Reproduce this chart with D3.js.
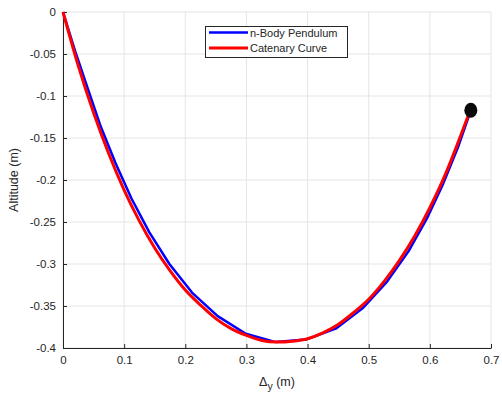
<html>
<head>
<meta charset="utf-8">
<script src="https://d3js.org/d3.v7.min.js"></script>
<style>
  body { margin: 0; background: #fff; }
  svg text { font-family: 'Liberation Sans', Arial, Helvetica, sans-serif; fill: #262626; }
  .grid line { stroke: #e5e5e5; stroke-width: 1; }
  .axis path, .axis line { stroke: #262626; }
</style>
</head>
<body>
<div id="chart"></div>
<script>
// x ticks and y ticks
var X_TICKS = [0, 0.1, 0.2, 0.3, 0.4, 0.5, 0.6, 0.7];
var Y_TICKS = [0, -0.05, -0.1, -0.15, -0.2, -0.25, -0.3, -0.35, -0.4];

// n-body pendulum nodes
var bodyX = [0, 0.020, 0.041, 0.062, 0.086, 0.112, 0.141, 0.174, 0.211, 0.253, 0.299,
             0.348, 0.397, 0.446, 0.491, 0.530, 0.565, 0.595, 0.622, 0.646, 0.667];
var bodyY = [0, -0.047, -0.092, -0.137, -0.180, -0.222, -0.262, -0.300, -0.334, -0.362, -0.383,
             -0.393, -0.390, -0.377, -0.352, -0.321, -0.285, -0.246, -0.204, -0.161, -0.117];

// catenary curve
var catX = [0, 0.025, 0.05, 0.075, 0.1, 0.125, 0.15, 0.175, 0.2, 0.225, 0.25, 0.275, 0.3,
            0.325, 0.35, 0.375, 0.4, 0.425, 0.45, 0.475, 0.5, 0.525, 0.55, 0.575, 0.6,
            0.625, 0.65, 0.667];
var catY = [0, -0.064, -0.120, -0.169, -0.212, -0.249, -0.281, -0.308, -0.331, -0.349,
            -0.365, -0.377, -0.385, -0.391, -0.393, -0.392, -0.389, -0.382, -0.372, -0.358,
            -0.342, -0.321, -0.296, -0.267, -0.233, -0.194, -0.148, -0.115];

// end mass
var massX = [0.667];
var massY = [-0.117];

var W = 502, H = 396;
var LEFT = 63, RIGHT = 491, TOP = 12, BOTTOM = 348;

var svg = d3.select('#chart').append('svg')
    .attr('width', W)
    .attr('height', H);

var x = d3.scaleLinear().domain([0, 0.7]).range([LEFT, RIGHT]);
var y = d3.scaleLinear().domain([-0.4, 0]).range([BOTTOM, TOP]);

// grid
var grid = svg.append('g').attr('class', 'grid');
grid.selectAll('line.gx')
    .data(X_TICKS)
    .enter()
    .append('line')
    .attr('x1', function(d) { return x(d); })
    .attr('x2', function(d) { return x(d); })
    .attr('y1', TOP)
    .attr('y2', BOTTOM);
grid.selectAll('line.gy')
    .data(Y_TICKS)
    .enter()
    .append('line')
    .attr('x1', LEFT)
    .attr('x2', RIGHT)
    .attr('y1', function(d) { return y(d); })
    .attr('y2', function(d) { return y(d); });

// axes, plain hyphen minus like the original
function fmt(d) { return String(d); }
var xAxis = d3.axisBottom(x).tickValues(X_TICKS).tickSizeInner(-4).tickSizeOuter(0)
    .tickPadding(8).tickFormat(fmt);
var yAxis = d3.axisLeft(y).tickValues(Y_TICKS).tickSizeInner(-4).tickSizeOuter(0)
    .tickPadding(7).tickFormat(fmt);

svg.append('g').attr('class', 'axis')
    .attr('transform', 'translate(0,' + BOTTOM + ')')
    .call(xAxis);
svg.append('g').attr('class', 'axis')
    .attr('transform', 'translate(' + LEFT + ',0)')
    .call(yAxis);
svg.selectAll('.axis text').style('font-size', '11.5px').attr('fill', '#262626');
svg.selectAll('.axis path').attr('stroke', '#262626');

// axis labels
var xl = svg.append('text')
    .attr('x', (LEFT + RIGHT) / 2)
    .attr('y', 386)
    .attr('text-anchor', 'middle')
    .style('font-size', '12.5px');
xl.append('tspan').text('\u0394');
xl.append('tspan').attr('dy', 4).style('font-size', '10.5px').text('y');
xl.append('tspan').attr('dy', -4).text(' (m)');

svg.append('text')
    .attr('transform', 'translate(18,' + ((TOP + BOTTOM) / 2) + ') rotate(-90)')
    .attr('text-anchor', 'middle')
    .style('font-size', '12.5px')
    .text('Altitude (m)');

// lines
var line = d3.line()
    .x(function(d) { return x(d[0]); })
    .y(function(d) { return y(d[1]); });

svg.append('path')
    .datum(d3.zip(bodyX, bodyY))
    .attr('d', line)
    .attr('fill', 'none')
    .attr('stroke', '#0000ff')
    .attr('stroke-width', 2.5)
    .attr('stroke-linejoin', 'round');

svg.append('path')
    .datum(d3.zip(catX, catY))
    .attr('d', d3.line().curve(d3.curveMonotoneX)
        .x(function(d) { return x(d[0]); })
        .y(function(d) { return y(d[1]); }))
    .attr('fill', 'none')
    .attr('stroke', '#ff0000')
    .attr('stroke-width', 3)
    .attr('stroke-linejoin', 'round');

// mass
svg.selectAll('ellipse.mass')
    .data(d3.zip(massX, massY))
    .enter()
    .append('ellipse')
    .attr('cx', function(d) { return x(d[0]); })
    .attr('cy', function(d) { return y(d[1]); })
    .attr('rx', 6.5)
    .attr('ry', 7.5)
    .attr('fill', '#0a0a0a');

// legend
var lg = svg.append('g');
lg.append('rect')
    .attr('x', 205.5).attr('y', 26.5)
    .attr('width', 142).attr('height', 31)
    .attr('fill', '#fff')
    .attr('stroke', '#262626')
    .attr('stroke-width', 1);
var entries = [['n-Body Pendulum', '#0000ff'], ['Catenary Curve', '#ff0000']];
entries.forEach(function(e, i) {
    var yy = 32.5 + i * 15.5;
    lg.append('line')
        .attr('x1', 209).attr('x2', 248)
        .attr('y1', yy).attr('y2', yy)
        .attr('stroke', e[1])
        .attr('stroke-width', i === 0 ? 2.5 : 3);
    lg.append('text')
        .attr('x', 250).attr('y', yy + 4)
        .style('font-size', '11px')
        .text(e[0]);
});
</script>
</body>
</html>
